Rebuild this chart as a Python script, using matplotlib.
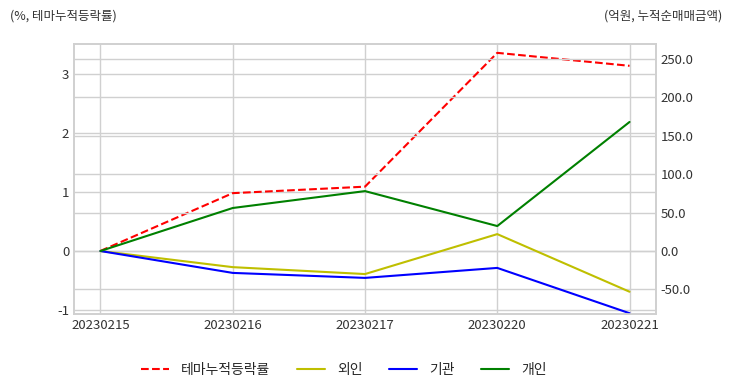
import matplotlib
matplotlib.use('Agg')
import matplotlib.pyplot as plt
import matplotlib.ticker as ticker

# Data
dates   = ['20230215', '20230216', '20230217', '20230220', '20230221']
theme   = [0.0, 0.98, 1.09, 3.36, 3.14]      # 테마누적등락률 (%)
foreign = [0.0, -21.0, -30.0, 22.0, -53.0]   # 외인 (억원)
inst    = [0.0, -28.5, -35.0, -22.0, -81.0]  # 기관 (억원)
retail  = [0.0, 56.0, 78.0, 32.5, 168.0]     # 개인 (억원)

plt.style.use('seaborn-v0_8-whitegrid')
plt.rcParams['font.family'] = ['Noto Sans CJK KR', 'DejaVu Sans']
plt.rcParams['axes.unicode_minus'] = False

fig = plt.figure(figsize=(7.32, 3.92), dpi=100)
ax1 = fig.add_axes([74/732, 1 - 314/392, 582/732, 270/392])
ax2 = ax1.twinx()

l1, = ax1.plot(dates, theme, color='red', linestyle='--', lw=1.5, label='테마누적등락률')
l2, = ax2.plot(dates, foreign, color='y', lw=1.5, label='외인')
l3, = ax2.plot(dates, inst, color='b', lw=1.5, label='기관')
l4, = ax2.plot(dates, retail, color='g', lw=1.5, label='개인')

ax1.set_ylim(-1.07, 3.51)
ax2.set_ylim(-82, 269.5)
ax1.set_yticks([-1, 0, 1, 2, 3])
ax2.set_yticks([-50, 0, 50, 100, 150, 200, 250])
ax2.yaxis.set_major_formatter(ticker.FormatStrFormatter('%.1f'))

for ax in (ax1, ax2):
    ax.grid(True, color='#d0d0d0', lw=1)
    ax.tick_params(labelsize=9.5, colors='#333333', length=0)
    for sp in ax.spines.values():
        sp.set_visible(True)
        sp.set_color('#d0d0d0')
        sp.set_linewidth(1.2)

fig.text(10/732, 1 - 16/392, '(%, 테마누적등락률)', fontsize=9, color='#333333', va='center', ha='left')
fig.text(722/732, 1 - 16/392, '(억원, 누적순매매금액)', fontsize=9, color='#333333', va='center', ha='right')

fig.legend(handles=[l1, l2, l3, l4], loc='center', bbox_to_anchor=(344/732, 1 - 370/392),
           ncol=4, frameon=False, fontsize=10, columnspacing=1.9, handlelength=2.0,
           handletextpad=0.9)

fig.savefig('out.png', dpi=100)
